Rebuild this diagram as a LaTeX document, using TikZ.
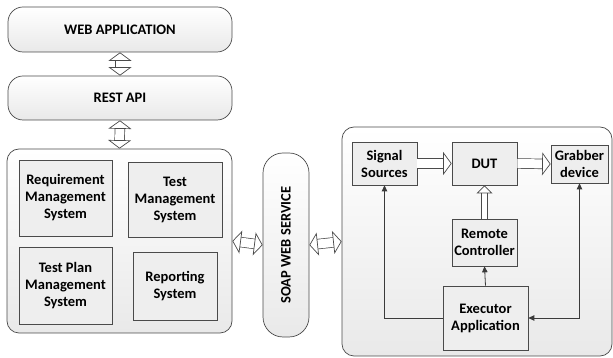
\documentclass[tikz,border=0pt]{standalone}
\usepackage{fontspec}
\setmainfont{Carlito}
\usetikzlibrary{arrows.meta,shadows}
\definecolor{edge}{HTML}{4A4A4A}
\definecolor{boxbg}{HTML}{E9E9E9}
\definecolor{wire}{HTML}{3A3A3A}

\begin{document}
\begin{tikzpicture}[
  x=1pt,y=1pt,font=\bfseries\fontsize{14.5}{17}\selectfont,
  panel/.style={draw=edge,line width=.7pt,rounded corners=12pt,
                top color=white,bottom color=boxbg,inner sep=0pt},
  unit/.style={draw=edge,line width=.7pt,fill=boxbg!75,align=center,inner sep=2pt,
               drop shadow={shadow xshift=1.2pt,shadow yshift=-1.2pt,opacity=.25}},
  bigtip/.tip={Triangle[open,fill=white,length=8.5pt,width=23pt,line width=.7pt]},
  smalltip/.tip={Triangle[open,fill=white,length=8pt,width=16pt,line width=.7pt]},
  hollow/.style={draw=edge,line width=.7pt,double=white,double distance=9pt},
  link/.style={-{Triangle[length=6pt,width=5.5pt]},draw=wire,line width=.8pt}
]
\useasboundingbox (0,0) rectangle (613,358);

% Web side stack.
\node[panel,rounded corners=15pt,minimum width=224pt,minimum height=45pt]
  (web) at (120,328.5) {WEB APPLICATION};
\node[panel,rounded corners=15pt,minimum width=224pt,minimum height=44pt]
  (rest) at (120,260) {REST API};

% Management systems.
\node[panel,minimum width=225pt,minimum height=184pt] (sys) at (119.5,117) {};
\node[unit,minimum width=93pt,minimum height=76pt] (req) at (65.5,160)
  {Requirement\\Management\\System};
\node[unit,minimum width=94pt,minimum height=75pt] (tms) at (175,158.5)
  {Test\\Management\\System};
\node[unit,minimum width=93pt,minimum height=77pt] (tpms) at (65.5,72.5)
  {Test Plan\\Management\\System};
\node[unit,minimum width=84pt,minimum height=68pt] (rep) at (175,72)
  {Reporting\\System};

% SOAP service, text turned upright.
\node[panel,rounded corners=20pt,minimum width=46pt,minimum height=184pt]
  (soap) at (286,113) {};
\node[rotate=90] (soaptext) at (soap.center) {SOAP WEB SERVICE};

% Test bench.
\node[panel,minimum width=270pt,minimum height=229pt] (bench) at (477,116.5) {};
\node[unit,minimum width=65pt,minimum height=43pt] (sig) at (384.5,194.5)
  {Signal\\Sources};
\node[unit,minimum width=65pt,minimum height=43pt] (dut) at (484.5,194.5) {DUT};
\node[unit,minimum width=57pt,minimum height=38pt] (grab) at (579.5,194)
  {Grabber\\device};
\node[unit,minimum width=65pt,minimum height=47pt] (rc) at (484.5,115.5)
  {Remote\\Controller};
\node[unit,minimum width=85pt,minimum height=64pt] (exe) at (485.5,40)
  {Executor\\Application};

% Block arrows.
\draw[hollow,bigtip-bigtip] (web.south) -- (rest.north);
\draw[hollow,bigtip-bigtip] (rest.south) -- (sys.north);
\draw[hollow,bigtip-bigtip] (sys.east) -- (soap.west);
\draw[hollow,bigtip-bigtip] (soap.east) -- (bench.west);
\draw[hollow,-bigtip] (sig.east) -- (dut.west);
\draw[hollow,-bigtip] (dut.east) -- (grab.west);
\draw[hollow,double distance=5pt,-smalltip] (rc.north) -- (dut.south);

% Control lines from the executor.
\draw[link] (exe.north) -- (rc.south);
\draw[link] (exe.west) -| (sig.south);
\draw[link,{Triangle[length=6pt,width=5.5pt]}-{Triangle[length=6pt,width=5.5pt]}]
  (exe.east) -| (grab.south);

\end{tikzpicture}
\end{document}
